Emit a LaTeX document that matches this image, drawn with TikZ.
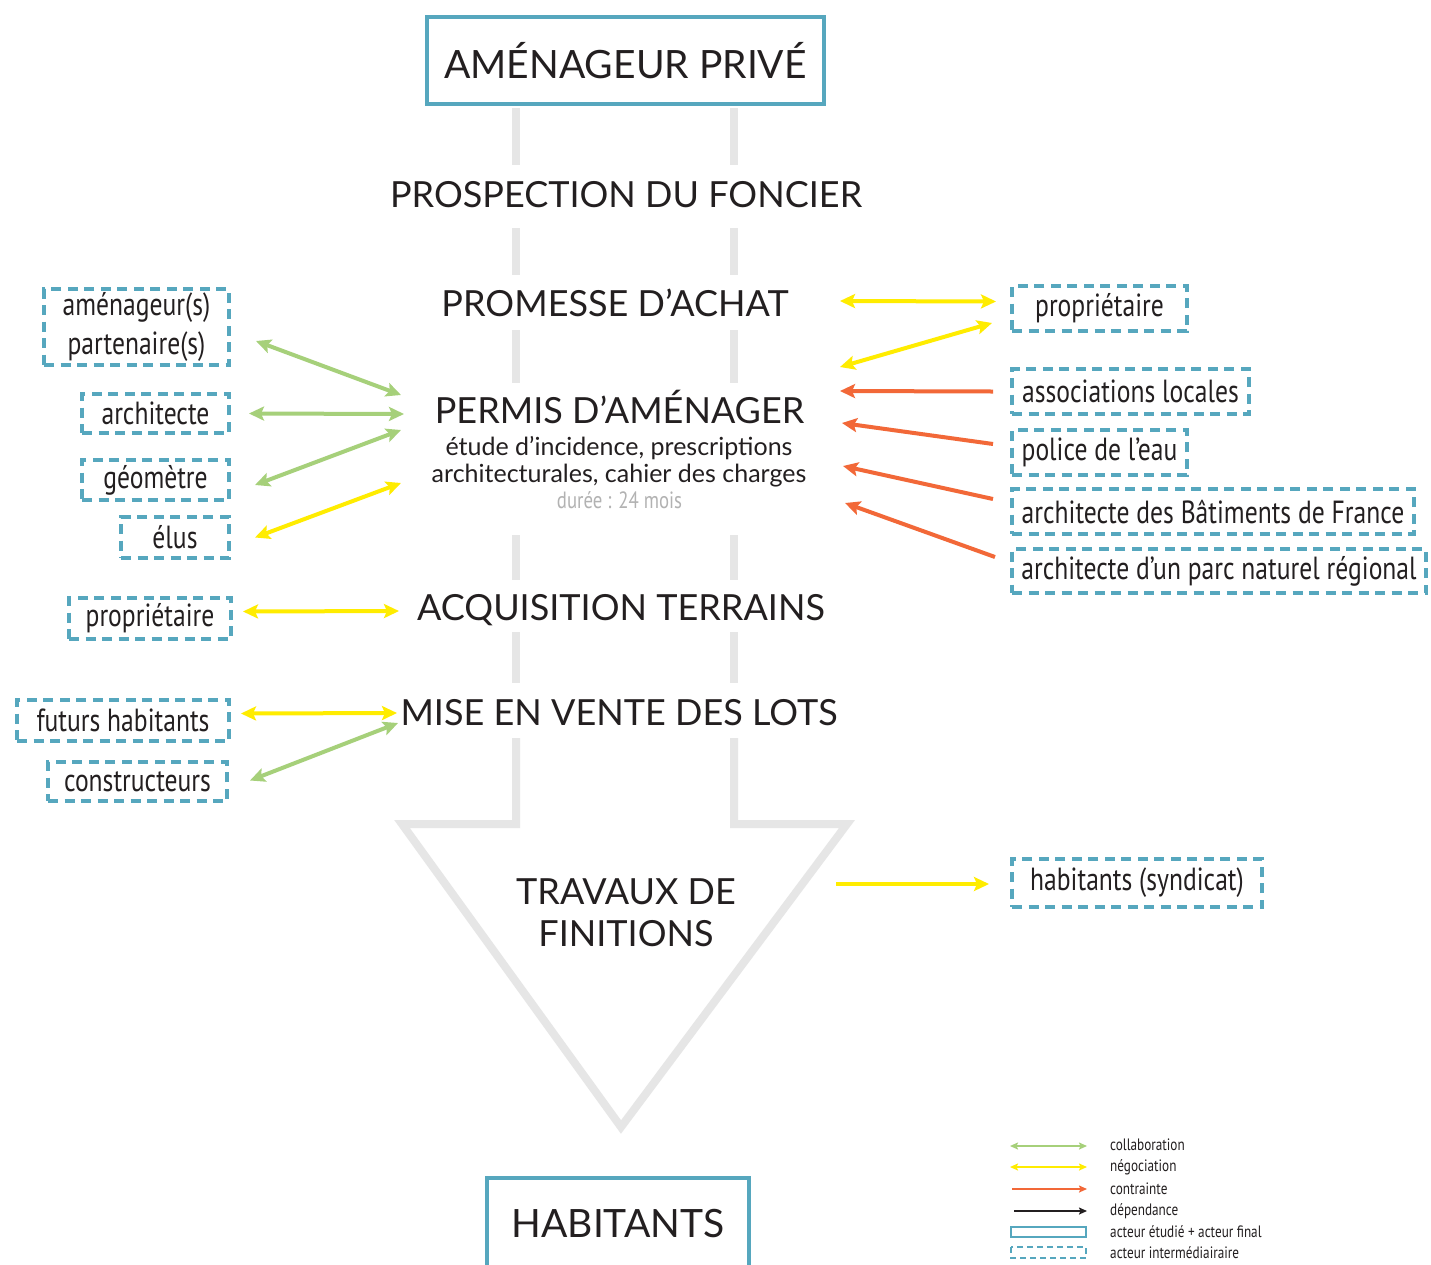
\documentclass[tikz,border=0pt]{standalone}
\usepackage{fontspec}
\setmainfont{Lato}
\newfontfamily\condf[FakeStretch=0.8]{PT Sans}
\usetikzlibrary{arrows.meta,calc}

\definecolor{ink}{RGB}{35,31,32}
\definecolor{actteal}{RGB}{86,167,190}
\definecolor{cgreen}{RGB}{166,208,122}
\definecolor{cyellow}{RGB}{255,236,0}
\definecolor{corange}{RGB}{242,104,56}
\definecolor{flowgrey}{RGB}{230,230,230}
\definecolor{durgrey}{RGB}{178,178,178}

\tikzset{
  heading/.style={font=\fontsize{36}{42}\selectfont, text=ink, inner sep=0pt},
  subline/.style={font=\fontsize{25}{29}\selectfont, text=ink, inner sep=0pt},
  durline/.style={font=\condf\fontsize{23.5}{28}\selectfont, text=durgrey, inner sep=0pt},
  mainactor/.style={draw=actteal, line width=4pt, text=ink, inner sep=0pt,
    font=\fontsize{39}{44}\selectfont},
  actor/.style={draw=actteal, line width=4pt, dash pattern=on 10pt off 6.5pt,
    text=ink, inner sep=0pt, align=center, font=\condf\fontsize{32}{39}\selectfont},
  flowbar/.style={draw=flowgrey, line width=8pt},
  collab/.style={draw=cgreen, line width=4pt,
    {Stealth[length=15pt,width=14pt,inset=3pt]}-{Stealth[length=15pt,width=14pt,inset=3pt]}},
  nego/.style={draw=cyellow, line width=4pt,
    {Stealth[length=15pt,width=14pt,inset=3pt]}-{Stealth[length=15pt,width=14pt,inset=3pt]}},
  negoone/.style={draw=cyellow, line width=4pt,
    -{Stealth[length=15pt,width=14pt,inset=3pt]}},
  constr/.style={draw=corange, line width=4pt,
    -{Stealth[length=15pt,width=14pt,inset=3pt]}},
  legtext/.style={anchor=west, inner sep=0pt, text=ink, font=\condf\fontsize{16.5}{18}\selectfont},
}

\begin{document}
\begin{tikzpicture}[x=1pt,y=-1pt]
\useasboundingbox (0,0) rectangle (1431,1264);
\clip (0,0) rectangle (1431,1264);
\fill[white] (0,0) rectangle (1431,1264);

% grey flow channel between the stages
\foreach \a/\b in {108/165, 228/275, 330/383, 535/580, 632/683}{
  \draw[flowbar] (516,\a) -- (516,\b);
  \draw[flowbar] (734,\a) -- (734,\b);
}
\draw[flowbar, line join=miter] (516,738) -- (516,824) -- (402,824) -- (621,1127)
  -- (847,824) -- (734,824) -- (734,738);

% main actors
\node[mainactor, minimum width=397pt, minimum height=87pt] (top) at (625.5,60.5) {AMÉNAGEUR PRIVÉ};
\node[mainactor, minimum width=262pt, minimum height=92pt] (hab) at (618,1224) {HABITANTS};

% stages
\node[heading, anchor=base] (prosp) at (626,207) {PROSPECTION DU FONCIER};
\node[heading, anchor=base] (prom) at (615,316) {PROMESSE D’ACHAT};
\node[heading, anchor=base] (permis) at (619.5,423) {PERMIS D’AMÉNAGER};
\node[subline, anchor=base] (etude) at (619,455) {étude d’incidence, prescriptions};
\node[subline, anchor=base] (archi) at (619,482) {architecturales, cahier des charges};
\node[durline, anchor=base] (duree) at (619.5,508) {durée : 24 mois};
\node[heading, anchor=base] (acq) at (621,620) {ACQUISITION TERRAINS};
\node[heading, anchor=base] (mise) at (619,725) {MISE EN VENTE DES LOTS};
\node[heading, align=center, font=\fontsize{36}{42}\selectfont] (trav) at (626,913) {TRAVAUX DE\\FINITIONS};

% intermediate actors, left
\node[actor, minimum width=185pt, minimum height=76pt] (amen) at (136.5,327) {aménageur(s)\\partenaire(s)};
\node[actor, minimum width=147pt, minimum height=39pt] (arch) at (155.5,413.5) {architecte};
\node[actor, minimum width=147pt, minimum height=40pt] (geom) at (155.5,480) {géomètre};
\node[actor, minimum width=108pt, minimum height=41pt] (elus) at (175,537.5) {élus};
\node[actor, minimum width=162pt, minimum height=41pt] (propL) at (150,618.5) {propriétaire};
\node[actor, minimum width=212pt, minimum height=41pt] (futurs) at (123,720.5) {futurs habitants};
\node[actor, minimum width=179pt, minimum height=39pt] (constructeurs) at (137.5,781.5) {constructeurs};

% intermediate actors, right
\node[actor, minimum width=175pt, minimum height=45pt] (propR) at (1099.5,308.5) {propriétaire};
\node[actor, minimum width=237pt, minimum height=45pt] (assoc) at (1130.5,391.5) {associations locales};
\node[actor, minimum width=175pt, minimum height=45pt] (police) at (1099.5,452.5) {police de l’eau};
\node[actor, minimum width=402pt, minimum height=45pt] (abf) at (1213,511.5) {architecte des Bâtiments de France};
\node[actor, minimum width=414pt, minimum height=44pt] (parc) at (1219,571) {architecte d’un parc naturel régional};
\node[actor, minimum width=250pt, minimum height=48pt] (syndic) at (1137,883) {habitants (syndicat)};

% relations, left side
\draw[collab] ($(amen.east)+(25,14)$) -- ($(permis.base)+(-218.5,-28)$);
\draw[collab] ($(arch.east)+(18,0)$) -- ($(permis.base)+(-215.5,-9)$);
\draw[collab] ($(geom.east)+(24,5)$) -- ($(permis.base)+(-218.5,7)$);
\draw[nego] ($(elus.east)+(24,0)$) -- ($(permis.base)+(-218.5,60)$);
\draw[nego] ($(propL.east)+(10,-7)$) -- ($(acq.base)+(-222,-9)$);
\draw[nego] ($(futurs.east)+(10,-7)$) -- ($(mise.base)+(-222,-12)$);
\draw[collab] ($(constructeurs.east)+(21,-1)$) -- ($(mise.base)+(-221,-2)$);

% relations, right side
\draw[nego] ($(prom.base)+(225,-15)$) -- ($(propR.west)+(-14,-7)$);
\draw[nego] ($(permis.base)+(220.5,-56)$) -- ($(propR.west)+(-18,14.5)$);
\draw[constr] ($(assoc.west)+(-17,0)$) -- ($(permis.base)+(220.5,-32)$);
\draw[constr] ($(police.west)+(-17,-8.5)$) -- ($(permis.base)+(222.5,0)$);
\draw[constr] ($(abf.west)+(-17,-12.5)$) -- ($(permis.base)+(223.5,43)$);
\draw[constr] ($(parc.west)+(-15,-14)$) -- ($(permis.base)+(225.5,80)$);
\draw[negoone] ($(trav.center)+(210,-29)$) -- ($(syndic.west)+(-21,1)$);

% legend
\node[legtext] (lg1) at (1110,1145) {collaboration};
\node[legtext] (lg2) at (1110,1167) {négociation};
\node[legtext] (lg3) at (1110,1189) {contrainte};
\node[legtext] (lg4) at (1110,1211) {dépendance};
\node[legtext] (lg5) at (1110,1232) {acteur étudié + acteur final};
\node[legtext] (lg6) at (1110,1253) {acteur intermédiairaire};
\draw[draw=cgreen, line width=2pt, {Stealth[length=8pt,width=7pt,inset=1.5pt]}-{Stealth[length=8pt,width=7pt,inset=1.5pt]}]
  ($(lg1.west)+(-100,1)$) -- ($(lg1.west)+(-23,1)$);
\draw[draw=cyellow, line width=2pt, {Stealth[length=8pt,width=7pt,inset=1.5pt]}-{Stealth[length=8pt,width=7pt,inset=1.5pt]}]
  ($(lg2.west)+(-100,0)$) -- ($(lg2.west)+(-23,0)$);
\draw[draw=corange, line width=2pt, -{Stealth[length=8pt,width=7pt,inset=1.5pt]}]
  ($(lg3.west)+(-98,0)$) -- ($(lg3.west)+(-23,0)$);
\draw[draw=ink, line width=2pt, -{Stealth[length=8pt,width=7pt,inset=1.5pt]}]
  ($(lg4.west)+(-96,0)$) -- ($(lg4.west)+(-23,0)$);
\draw[draw=actteal, line width=2pt] ($(lg5.west)+(-99,-5)$) rectangle ($(lg5.west)+(-24,5)$);
\draw[draw=actteal, line width=2pt, dash pattern=on 6pt off 4pt]
  ($(lg6.west)+(-99,-6)$) rectangle ($(lg6.west)+(-24,5)$);
\end{tikzpicture}
\end{document}
